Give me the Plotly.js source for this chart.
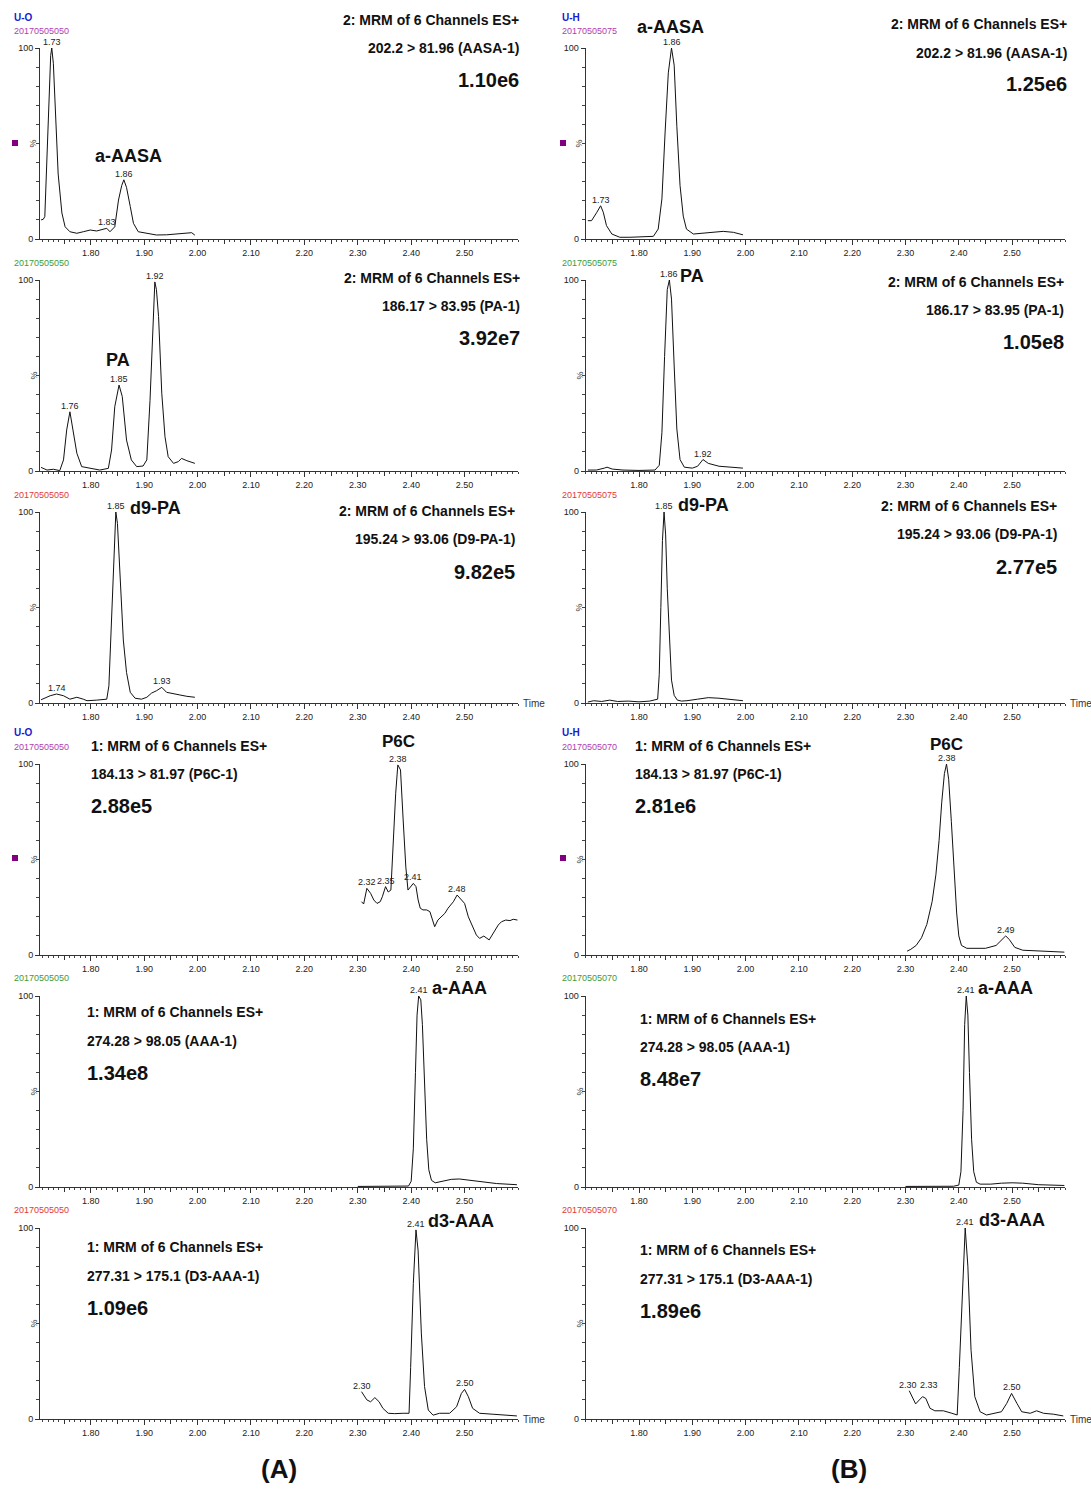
<!DOCTYPE html>
<html><head><meta charset="utf-8">
<script src="https://cdn.plot.ly/plotly-3.0.1.min.js"></script>
<style>body{margin:0;background:#fff}#chart{width:1091px;height:1490px}</style>
</head><body><div id="chart"></div><script>
// ---------- DATA (retention time in min, relative intensity in %) ----------
const xTickVals = [1.80,1.90,2.00,2.10,2.20,2.30,2.40,2.50];
const xTickText = ["1.80","1.90","2.00","2.10","2.20","2.30","2.40","2.50"];
const xMidTicks = [1.75,1.85,1.95,2.05,2.15,2.25,2.35,2.45,2.55];

// (A) U-O, a-AASA
const A1_time = [1.707,1.711,1.714,1.719,1.722,1.725,1.727,1.730,1.733,1.739,1.746,1.752,1.761,1.774,1.786,1.799,1.811,1.824,1.830,1.836,1.845,1.852,1.858,1.862,1.867,1.874,1.880,1.889,1.905,1.923,1.942,1.961,1.980,1.989,1.995];
const A1_int  = [10,10.3,11.7,55,81,96,100,92,72.8,34,13.6,6.4,3.8,3,3.8,4.7,4.2,5,5.6,3.8,6.4,20.4,28,31,27,17,8.2,3.8,3,2.1,2.2,2.5,3,3.3,2];
// (A) U-O, PA
const A2_time = [1.707,1.718,1.730,1.742,1.749,1.755,1.761,1.767,1.774,1.783,1.799,1.817,1.833,1.839,1.845,1.853,1.859,1.867,1.876,1.886,1.898,1.905,1.911,1.916,1.920,1.923,1.927,1.933,1.939,1.945,1.955,1.964,1.970,1.980,1.995];
const A2_int  = [1.9,0.5,0.9,0.2,5.8,21.5,31,21.5,9.3,2.3,1.4,0.5,1.4,11,33.7,45,39,16.2,5.8,2.3,2.6,5.8,37,72,99,95,80.8,40.7,18,7.5,4,4.9,6.6,5.4,4];
// (A) U-O, d9-PA
const A3_time = [1.707,1.724,1.736,1.749,1.761,1.774,1.786,1.793,1.811,1.830,1.834,1.839,1.844,1.847,1.850,1.855,1.861,1.867,1.874,1.883,1.895,1.905,1.914,1.923,1.933,1.942,1.955,1.967,1.980,1.995];
const A3_int  = [1.7,3.8,4.7,3.8,2,3,2,1.2,1.5,2,9,47,82,100,94,64.5,33,16,5.6,2.5,2,3,5.2,6.4,8.2,5.6,4.7,4.2,3.5,3];
// (A) U-O, P6C
const A4_time = [2.307,2.311,2.317,2.324,2.330,2.336,2.342,2.346,2.352,2.357,2.362,2.366,2.371,2.375,2.380,2.385,2.390,2.394,2.399,2.404,2.409,2.413,2.417,2.422,2.429,2.435,2.440,2.444,2.450,2.457,2.463,2.469,2.479,2.486,2.494,2.500,2.507,2.515,2.522,2.528,2.536,2.546,2.553,2.563,2.569,2.577,2.585,2.591,2.599];
const A4_int  = [27.9,26.7,34.9,32.3,28.8,27,27.9,30.5,35.8,33,34,56.7,84.7,99.5,96.9,70.7,46,34,35.8,37.5,35.8,28.8,24.5,23.6,23.6,22.7,18.3,14.8,18.3,20,21.8,24.5,27.9,31.4,28.8,27,20,14.8,10.5,8.7,9.9,7.9,11.4,15.7,17.4,18.3,18,18.7,18.3];
// (A) U-O, a-AAA
const A5_time = [2.300,2.350,2.395,2.400,2.404,2.408,2.411,2.414,2.418,2.421,2.425,2.429,2.433,2.438,2.445,2.460,2.475,2.490,2.510,2.530,2.560,2.598];
const A5_int  = [0.3,0.3,0.5,3,20,60,90,100,98,85,55,25,9,3.5,2.2,3,4,4.2,3.5,2.5,1.8,1.2];
// (A) U-O, d3-AAA
const A6_time = [2.307,2.317,2.324,2.332,2.340,2.347,2.357,2.369,2.385,2.396,2.399,2.404,2.409,2.413,2.419,2.425,2.432,2.441,2.453,2.472,2.485,2.494,2.500,2.507,2.515,2.528,2.553,2.578,2.598];
const A6_int  = [14.3,10,9,11.2,9,5.6,3,2.8,3,3,27,71,99,88,45,17,4.7,2,3,3,6.4,13.4,15.5,11.7,5.6,3,2.5,2,1.6];

// (B) U-H, a-AASA
const B1_time = [1.704,1.711,1.721,1.728,1.733,1.739,1.749,1.764,1.783,1.808,1.827,1.836,1.843,1.849,1.855,1.861,1.866,1.871,1.877,1.883,1.889,1.902,1.921,1.939,1.958,1.977,1.995];
const B1_int  = [9.6,9.6,14,17.4,14,7,2.6,0.9,0.9,1.2,1.4,5.2,21,56,87,100,91,59,28,12,5.2,2.6,3.1,3.8,4,3.5,2.2];
// (B) U-H, PA
const B2_time = [1.704,1.720,1.735,1.740,1.750,1.770,1.800,1.830,1.838,1.843,1.848,1.853,1.857,1.861,1.866,1.871,1.877,1.885,1.900,1.910,1.920,1.930,1.950,1.970,1.995];
const B2_int  = [0.5,0.5,1.5,2,1,0.5,0.3,0.5,3,20,60,95,100,90,55,22,6,2,1.5,2.5,6,4,2.5,2,1.5];
// (B) U-H, d9-PA
const B3_time = [1.704,1.715,1.730,1.745,1.760,1.780,1.800,1.820,1.835,1.838,1.841,1.844,1.847,1.850,1.853,1.857,1.861,1.866,1.872,1.880,1.890,1.910,1.930,1.950,1.970,1.995];
const B3_int  = [0.5,1.2,0.8,1.5,0.8,1,0.6,1,2,15,50,85,100,88,60,32,12,4,1.5,1,1.2,2,2.8,2.5,1.8,1.2];
// (B) U-H, P6C
const B4_time = [2.303,2.310,2.320,2.330,2.340,2.350,2.357,2.363,2.368,2.373,2.377,2.381,2.386,2.391,2.396,2.400,2.405,2.415,2.430,2.450,2.470,2.480,2.488,2.495,2.505,2.520,2.550,2.598];
const B4_int  = [2,3,5,9,16,28,42,60,80,95,100,92,70,45,22,10,5,3.5,3.5,3.5,5,8,10,8,4,2.5,2,1.5];
// (B) U-H, a-AAA
const B5_time = [2.300,2.350,2.390,2.400,2.404,2.408,2.411,2.414,2.417,2.420,2.424,2.428,2.433,2.440,2.460,2.480,2.500,2.520,2.550,2.598];
const B5_int  = [0.3,0.3,0.4,1,8,40,85,100,90,60,25,8,2.5,1.5,1.5,2,2.2,2,1.2,0.8];
// (B) U-H, d3-AAA
const B6_time = [2.307,2.315,2.319,2.326,2.332,2.338,2.346,2.355,2.371,2.387,2.397,2.401,2.407,2.412,2.417,2.423,2.430,2.440,2.452,2.468,2.480,2.490,2.499,2.509,2.518,2.534,2.546,2.559,2.578,2.596];
const B6_int  = [14.8,10.3,7.9,10,11.7,10.8,5.6,4.3,4.3,3,2.1,27,71,100,80,36,11.7,3.8,2.1,3,3.8,8.2,13.4,8.2,3.8,3,4.3,3,2.5,1.6];

// peak labels per panel: [time, intensity, label]
const A1_peaks = [[1.727,100,"1.73"],[1.830,5.6,"1.83"],[1.862,31,"1.86"]];
const A2_peaks = [[1.920,99,"1.92"],[1.853,45,"1.85"],[1.761,31,"1.76"]];
const A3_peaks = [[1.847,100,"1.85"],[1.736,4.7,"1.74"],[1.933,8.2,"1.93"]];
const A4_peaks = [[2.375,99.5,"2.38"],[2.317,34.9,"2.32"],[2.352,35.8,"2.35"],[2.404,37.5,"2.41"],[2.486,31.4,"2.48"]];
const A5_peaks = [[2.414,100,"2.41"]];
const A6_peaks = [[2.409,99,"2.41"],[2.307,14.3,"2.30"],[2.500,15.5,"2.50"]];
const B1_peaks = [[1.861,100,"1.86"],[1.728,17.4,"1.73"]];
const B2_peaks = [[1.857,100,"1.86"],[1.920,6,"1.92"]];
const B3_peaks = [[1.847,100,"1.85"]];
const B4_peaks = [[2.377,100,"2.38"],[2.488,10,"2.49"]];
const B5_peaks = [[2.414,100,"2.41"]];
const B6_peaks = [[2.412,100,"2.41"],[2.305,14.8,"2.30"],[2.345,14.8,"2.33"],[2.499,13.4,"2.50"]];

const compounds = ["a-AASA","PA","d9-PA","P6C","a-AAA","d3-AAA"];
const channelLine = ["2: MRM of 6 Channels ES+","2: MRM of 6 Channels ES+","2: MRM of 6 Channels ES+","1: MRM of 6 Channels ES+","1: MRM of 6 Channels ES+","1: MRM of 6 Channels ES+"];
const transitions = ["202.2 > 81.96 (AASA-1)","186.17 > 83.95 (PA-1)","195.24 > 93.06 (D9-PA-1)","184.13 > 81.97 (P6C-1)","274.28 > 98.05 (AAA-1)","277.31 > 175.1 (D3-AAA-1)"];
const maxA = ["1.10e6","3.92e7","9.82e5","2.88e5","1.34e8","1.09e6"];
const maxB = ["1.25e6","1.05e8","2.77e5","2.81e6","8.48e7","1.89e6"];
const fileA = ["20170505050","20170505050","20170505050","20170505050","20170505050","20170505050"];
const fileB = ["20170505075","20170505075","20170505075","20170505070","20170505070","20170505070"];

// ---------- LAYOUT ----------
const W = 1091, H = 1490;
const px = x => x / W, py = y => 1 - y / H;
const rowTop = [48,280,512,764,996,1228], rowBot = [239,471,703,955,1187,1419];
const colDom = [[40,518],[585.7,1065.4]];
const colRange = [[1.705,2.600],[1.700,2.600]];
const fileColors = ["#b040b0","#3c9c3c","#e03a3a","#b040b0","#3c9c3c","#e03a3a"];
const FONT = "Liberation Sans, Arial, sans-serif";

const series = [
  [A1_time,A1_int,A1_peaks],[A2_time,A2_int,A2_peaks],[A3_time,A3_int,A3_peaks],
  [A4_time,A4_int,A4_peaks],[A5_time,A5_int,A5_peaks],[A6_time,A6_int,A6_peaks],
  [B1_time,B1_int,B1_peaks],[B2_time,B2_int,B2_peaks],[B3_time,B3_int,B3_peaks],
  [B4_time,B4_int,B4_peaks],[B5_time,B5_int,B5_peaks],[B6_time,B6_int,B6_peaks]
];

const traces = [], annotations = [], shapes = [];
const layout = {width:W, height:H, margin:{l:0,r:0,t:0,b:0}, paper_bgcolor:"#fff", plot_bgcolor:"rgba(0,0,0,0)", showlegend:false};

function ann(text, x, y, size, opt) {
  return Object.assign({text:text, x:px(x), y:py(y), xref:"paper", yref:"paper", showarrow:false,
    xanchor:"center", yanchor:"middle", font:{family:FONT, size:size, color:"#111"}}, opt||{});
}

series.forEach((s, i) => {
  const col = i < 6 ? 0 : 1, row = i % 6, n = i + 1;
  const xa = n === 1 ? "x" : "x" + n, ya = n === 1 ? "y" : "y" + n;
  traces.push({x:s[0], y:s[1], xaxis:xa, yaxis:ya, type:"scatter", mode:"lines",
    line:{color:"#111", width:1}, hoverinfo:"skip"});
  layout[n === 1 ? "xaxis" : "xaxis" + n] = {
    domain:[px(colDom[col][0]), px(colDom[col][1])], range:colRange[col], anchor:ya,
    showgrid:false, zeroline:false, showline:true, linecolor:"#333", linewidth:1,
    ticks:"outside", ticklen:5, tickcolor:"#333", tickmode:"array", tickvals:xTickVals, ticktext:xTickText,
    tickfont:{family:FONT, size:9, color:"#222"},
    minor:{tick0:1.70, dtick:0.01, ticks:"outside", ticklen:2, tickcolor:"#444", showgrid:false}
  };
  layout[n === 1 ? "yaxis" : "yaxis" + n] = {
    domain:[py(rowBot[row]), py(rowTop[row])], range:[0,100], anchor:xa,
    showgrid:false, zeroline:false, showline:true, linecolor:"#333", linewidth:1,
    ticks:"outside", ticklen:4, tickcolor:"#333", tickmode:"array", tickvals:[0,100], ticktext:["0","100"],
    tickfont:{family:FONT, size:9, color:"#222"},
    minor:{tick0:0, dtick:10, ticks:"outside", ticklen:3, tickcolor:"#444", showgrid:false}
  };
  // overlay axis carrying the medium (0.05) ticks
  const m = n + 12, xm = "x" + m;
  layout["xaxis" + m] = {overlaying:xa, anchor:ya, domain:[px(colDom[col][0]), px(colDom[col][1])],
    range:colRange[col], showgrid:false, zeroline:false, showline:false, ticks:"outside", ticklen:3.5,
    tickcolor:"#333", tickmode:"array", tickvals:xMidTicks, showticklabels:false};
  traces.push({x:[], y:[], xaxis:xm, yaxis:ya, type:"scatter", mode:"lines", hoverinfo:"skip"});
  // peak labels
  s[2].forEach(p => annotations.push({text:p[2], x:p[0], y:p[1], xref:xa, yref:ya, showarrow:false,
    xanchor:"center", yanchor:"bottom", borderpad:0, font:{family:FONT, size:9, color:"#222"}}));
  // % label
  const midY = (rowTop[row] + rowBot[row]) / 2;
  annotations.push(ann("%", col === 0 ? 33 : 579, midY, 9, {textangle:-90, font:{family:FONT,size:9,color:"#333"}}));
  // file id
  const fid = col === 0 ? fileA[row] : fileB[row];
  const fy = [31,263,495,747,978,1210][row];
  annotations.push(ann(fid, col === 0 ? 12 : 560, fy, 9, {xanchor:"left", font:{family:FONT,size:9,color:fileColors[row]}}));
});

// sample names
[[12,17,"U-O"],[12,732,"U-O"],[560,17,"U-H"],[560,732,"U-H"]].forEach(a =>
  annotations.push(ann(a[2], a[0], a[1], 10, {xanchor:"left", font:{family:FONT,size:10,color:"#1a1ad0",weight:"bold"}})));

// channel headers: [x, anchor, y1, y2, y3]
const headA = [[521,"right",20,48,80],[522,"right",278,306,338],[517,"right",511,539,572],
               [89,"left",746,774,806],[85,"left",1012,1041,1073],[85,"left",1247,1276,1308]];
const headB = [[1069,"right",24,53,84],[1066,"right",282,310,342],[1059,"right",506,534,567],
               [633,"left",746,774,806],[638,"left",1019,1047,1079],[638,"left",1250,1279,1311]];
[[headA,maxA],[headB,maxB]].forEach(([hd, mx]) => hd.forEach((h, r) => {
  annotations.push(ann(channelLine[r], h[0], h[2], 14, {xanchor:h[1], font:{family:FONT,size:14,color:"#111",weight:"bold"}}));
  annotations.push(ann(transitions[r], h[0], h[3], 14, {xanchor:h[1], font:{family:FONT,size:14,color:"#111",weight:"bold"}}));
  annotations.push(ann(mx[r], h[0], h[4], 20, {xanchor:h[1], font:{family:FONT,size:20,color:"#111",weight:"bold"}}));
}));

// compound names
const cmpA = [[128,156,"center"],[118,360,"center"],[128,508,"left"],[398,742,"center"],[430,988,"left"],[426,1221,"left"]];
const cmpB = [[670,27,"center"],[678,276,"left"],[676,505,"left"],[946,744,"center"],[976,988,"left"],[977,1220,"left"]];
[cmpA, cmpB].forEach(c => c.forEach((p, r) =>
  annotations.push(ann(compounds[r], p[0], p[1], 18, {xanchor:p[2], font:{family:FONT,size:(r===3?17:18),color:"#111",weight:"bold"}}))));

// Time labels
[[521,704],[1068,704],[521,1419],[1068,1419]].forEach(p =>
  annotations.push(ann("Time", p[0], p[1], 10, {xanchor:"left", font:{family:FONT,size:10,color:"#333"}})));

// panel letters
annotations.push(ann("(A)", 279, 1469, 26, {font:{family:FONT,size:26,color:"#111",weight:"bold"}}));
annotations.push(ann("(B)", 849, 1469, 26, {font:{family:FONT,size:26,color:"#111",weight:"bold"}}));

// purple markers
[[15,143],[563,143],[15,858],[563,858]].forEach(p => shapes.push({type:"rect", xref:"paper", yref:"paper",
  x0:px(p[0]-3), x1:px(p[0]+3), y0:py(p[1]+3), y1:py(p[1]-3), fillcolor:"#800080", line:{width:0}}));

layout.annotations = annotations;
layout.shapes = shapes;
Plotly.newPlot("chart", traces, layout, {staticPlot:true, displayModeBar:false});
</script></body></html>
